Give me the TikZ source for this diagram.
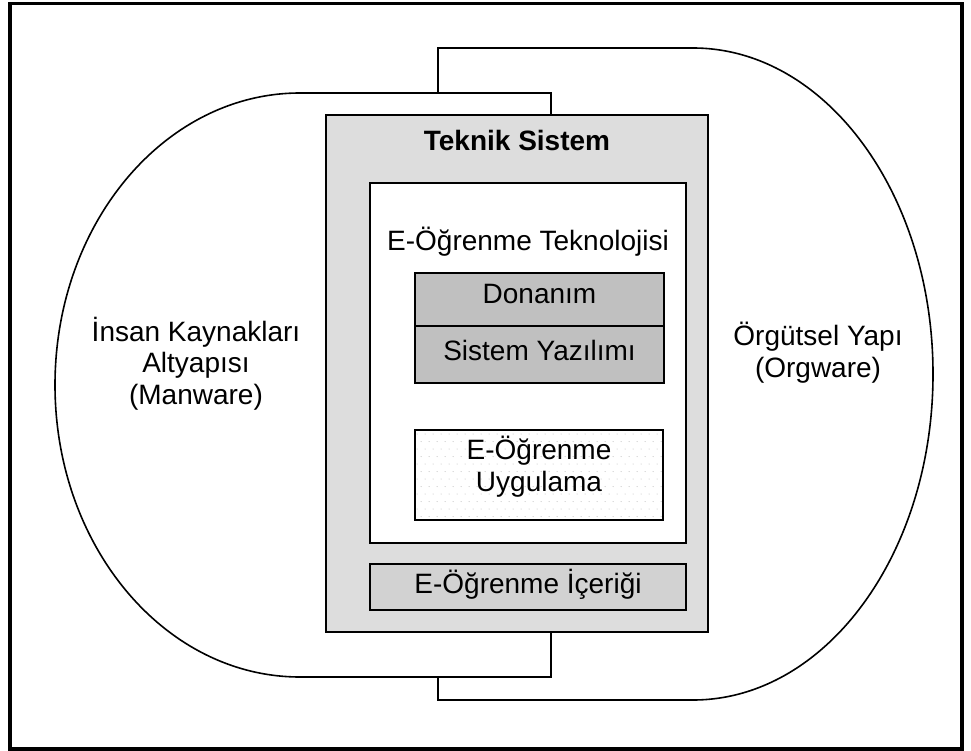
\documentclass[tikz,border=0pt]{standalone}
\usepackage{fontspec}
\setmainfont{Liberation Sans}
\definecolor{boxgray}{RGB}{221,221,221}
\definecolor{hwgray}{RGB}{192,192,192}
\definecolor{contgray}{RGB}{210,210,210}
\definecolor{dotgray}{RGB}{185,185,185}
\tikzset{
  shapeline/.style={draw=black, line width=1.6pt},
  boxline/.style={draw=black, line width=2pt},
  lbl/.style={font=\fontsize{28}{31.5}\selectfont, inner sep=0pt, align=center, anchor=base},
}
\begin{document}
\begin{tikzpicture}[x=1pt,y=-1pt]
\useasboundingbox (0,0) rectangle (971,751);
% outer frame
\draw[line width=3.6pt] (10,3.5) rectangle (962,749);
% right shape (Orgware)
\draw[shapeline] (438,93) -- (438,48) -- (693,48)
  arc[start angle=90, end angle=-90, x radius=240pt, y radius=326pt]
  -- (438,700) -- (438,677);
% left shape (Manware)
\draw[shapeline] (551,115) -- (551,93) -- (300,93)
  arc[start angle=90, end angle=270, x radius=245pt, y radius=292pt]
  -- (551,677) -- (551,632);
% technical system box
\draw[boxline, fill=boxgray] (326,115) rectangle (708,632);
\node[lbl, font=\fontsize{28}{31.5}\selectfont\bfseries] (teknik) at (517,151) {Teknik Sistem};
% technology box
\draw[boxline, fill=white] (370,183) rectangle (686,543);
\node[lbl] (tekno) at (528,251) {E-Öğrenme Teknolojisi};
% hardware / system software
\draw[boxline, fill=hwgray] (415,273) rectangle (664,383);
\draw[boxline] (415,326) -- (664,326);
\node[lbl] (donanim) at (539.5,303) {Donanım};
\node[lbl] (yazilim) at (539.5,360) {Sistem Yazılımı};
% application box with dots
\begin{scope}
  \clip (415,430) rectangle (663,520);
  \foreach \r in {0,...,12} {
    \foreach \c in {0,...,32} {
      \pgfmathsetmacro{\xx}{417+\c*8+mod(\r,2)*4}
      \pgfmathsetmacro{\yy}{434+\r*7.5}
      \fill[dotgray] (\xx,\yy) circle[radius=0.5pt];
    }
  }
\end{scope}
\draw[boxline] (415,430) rectangle (663,520);
\node[lbl] (uygulama) at (539,491) {E-Öğrenme\\Uygulama};
% content box
\draw[boxline, fill=contgray] (370,564) rectangle (686,610);
\node[lbl] (icerik) at (528,593) {E-Öğrenme İçeriği};
% side labels
\node[lbl] (manware) at (196,404) {İnsan Kaynakları\\Altyapısı\\(Manware)};
\node[lbl] (orgware) at (818,377) {Örgütsel Yapı\\(Orgware)};
\end{tikzpicture}
\end{document}
